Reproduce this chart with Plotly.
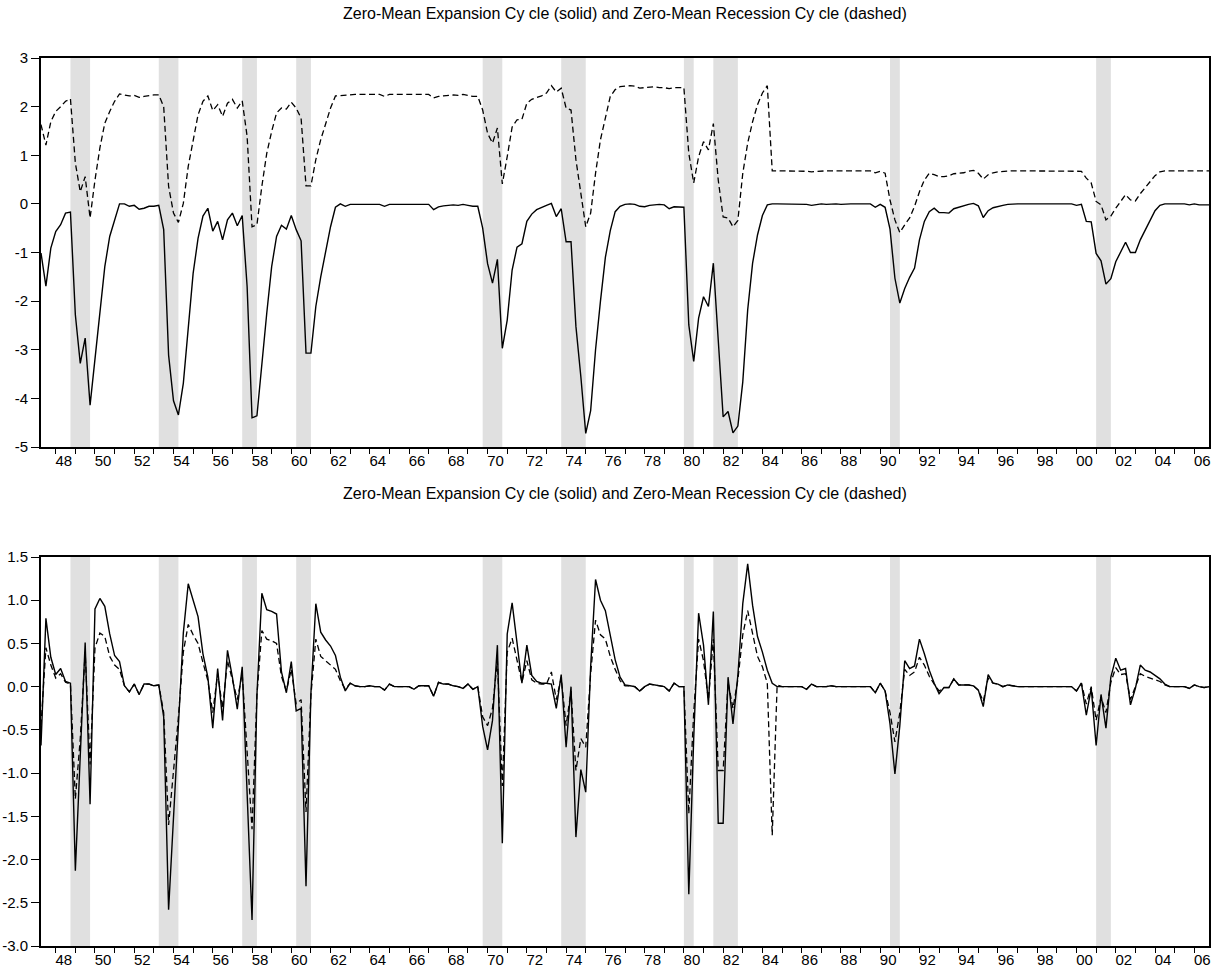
import plotly.graph_objects as go
import pandas as pd

# ---------------- data (quarterly, 1947Q2 - 2006Q4) ----------------
start_period = "1947Q2"

top_expansion = [
    -1.01, -1.69, -0.91,                      # 1947 Q2-Q4
    -0.57, -0.43, -0.19, -0.17,               # 1948
    -2.28, -3.28, -2.76, -4.14,               # 1949
    -3.17, -2.26, -1.29, -0.67,               # 1950
    -0.33, 0.00, 0.00, -0.05,                 # 1951
    -0.03, -0.11, -0.09, -0.05,               # 1952
    -0.05, -0.03, -0.53, -3.11,               # 1953
    -4.05, -4.34, -3.69, -2.52,               # 1954
    -1.43, -0.71, -0.25, -0.09,               # 1955
    -0.56, -0.36, -0.74, -0.33,               # 1956
    -0.19, -0.45, -0.24, -1.70,               # 1957
    -4.40, -4.36, -3.28, -2.25,               # 1958
    -1.29, -0.67, -0.44, -0.52,               # 1959
    -0.24, -0.53, -0.76, -3.07,               # 1960
    -3.07, -2.11, -1.50, -0.95,               # 1961
    -0.47, -0.07, 0.00, -0.05,                # 1962
    -0.01, -0.01, -0.01, -0.01,               # 1963
    0.00, 0.00, -0.01, -0.05,                 # 1964
    -0.01, -0.01, -0.01, -0.01,               # 1965
    -0.02, -0.02, -0.02, -0.02,               # 1966
    -0.01, -0.12, -0.06, -0.04,               # 1967
    -0.03, -0.02, -0.03, -0.01,               # 1968
    -0.03, -0.05, -0.05, -0.50,               # 1969
    -1.23, -1.63, -1.14, -2.97,               # 1970
    -2.39, -1.36, -0.89, -0.82,               # 1971
    -0.36, -0.21, -0.12, -0.07,               # 1972
    -0.03, 0.01, -0.26, -0.10,                # 1973
    -0.78, -0.78, -2.52, -3.55,               # 1974
    -4.72, -4.25, -3.00, -2.00,               # 1975
    -1.10, -0.55, -0.16, -0.05,               # 1976
    -0.01, 0.00, -0.01, -0.05,                # 1977
    -0.06, -0.03, -0.02, -0.01,               # 1978
    -0.02, -0.10, -0.06, -0.06,               # 1979
    -0.07, -2.49, -3.24, -2.35,               # 1980
    -1.91, -2.11, -1.22, -2.80,               # 1981
    -4.38, -4.27, -4.71, -4.57,               # 1982
    -3.66, -2.18, -1.22, -0.64,               # 1983
    -0.24, -0.02, 0.00, 0.00,                 # 1984
    0.00, 0.00, -0.01, 0.00,                  # 1985
    0.00, -0.01, -0.03, -0.01,                # 1986
    0.00, -0.01, 0.00, 0.00,                  # 1987
    -0.01, 0.00, 0.00, 0.00,                  # 1988
    0.00, 0.00, 0.00, -0.07,                  # 1989
    -0.01, -0.07, -0.52, -1.53,               # 1990
    -2.04, -1.74, -1.51, -1.32,               # 1991
    -0.74, -0.36, -0.16, -0.09,               # 1992
    -0.18, -0.18, -0.19, -0.10,               # 1993
    -0.07, -0.03, -0.01, 0.01,                # 1994
    -0.04, -0.28, -0.14, -0.08,               # 1995
    -0.05, -0.03, -0.01, 0.00,                # 1996
    0.00, 0.00, 0.00, 0.00,                   # 1997
    0.00, 0.00, 0.00, 0.00,                   # 1998
    0.00, 0.00, 0.00, 0.00,                   # 1999
    -0.03, -0.01, -0.36, -0.37,               # 2000
    -1.02, -1.17, -1.65, -1.54,               # 2001
    -1.19, -1.00, -0.79, -1.00,               # 2002
    -1.00, -0.74, -0.53, -0.34,               # 2003
    -0.14, -0.03, 0.00, 0.00,                 # 2004
    0.00, 0.00, 0.00, -0.02,                  # 2005
    0.00, -0.02, -0.02, -0.02,                # 2006
]

top_recession = [
    1.63, 1.21, 1.69,                         # 1947 Q2-Q4
    1.90, 2.00, 2.11, 2.16,                   # 1948
    0.84, 0.25, 0.56, -0.29,                  # 1949
    0.49, 1.15, 1.66, 1.90,                   # 1950
    2.11, 2.26, 2.24, 2.22,                   # 1951
    2.23, 2.19, 2.21, 2.23,                   # 1952
    2.24, 2.24, 2.00, 0.36,                   # 1953
    -0.19, -0.38, 0.01, 0.77,                 # 1954
    1.32, 1.83, 2.11, 2.22,                   # 1955
    1.92, 2.04, 1.80, 2.07,                   # 1956
    2.15, 1.97, 2.12, 1.39,                   # 1957
    -0.47, -0.43, 0.36, 1.04,                 # 1958
    1.49, 1.87, 1.97, 1.95,                   # 1959
    2.09, 1.97, 1.76, 0.37,                   # 1960
    0.37, 0.91, 1.32, 1.63,                   # 1961
    1.97, 2.22, 2.23, 2.24,                   # 1962
    2.25, 2.25, 2.25, 2.25,                   # 1963
    2.26, 2.26, 2.25, 2.21,                   # 1964
    2.25, 2.25, 2.25, 2.25,                   # 1965
    2.24, 2.24, 2.24, 2.24,                   # 1966
    2.25, 2.18, 2.21, 2.22,                   # 1967
    2.23, 2.24, 2.23, 2.25,                   # 1968
    2.23, 2.21, 2.21, 1.93,                   # 1969
    1.45, 1.25, 1.56, 0.41,                   # 1970
    0.97, 1.58, 1.73, 1.74,                   # 1971
    2.07, 2.15, 2.19, 2.22,                   # 1972
    2.28, 2.43, 2.30, 2.38,                   # 1973
    1.97, 1.93, 0.91, 0.22,                   # 1974
    -0.47, -0.19, 0.63, 1.32,                 # 1975
    1.80, 2.21, 2.35, 2.41,                   # 1976
    2.42, 2.43, 2.42, 2.38,                   # 1977
    2.39, 2.40, 2.41, 2.39,                   # 1978
    2.39, 2.37, 2.39, 2.39,                   # 1979
    2.39, 1.04, 0.43, 0.97,                   # 1980
    1.28, 1.11, 1.65, 0.49,                   # 1981
    -0.27, -0.29, -0.47, -0.34,               # 1982
    0.63, 1.25, 1.69, 2.04,                   # 1983
    2.28, 2.43, 0.68, 0.68,                   # 1984
    0.68, 0.68, 0.68, 0.68,                   # 1985
    0.68, 0.67, 0.66, 0.67,                   # 1986
    0.68, 0.68, 0.68, 0.68,                   # 1987
    0.67, 0.68, 0.68, 0.68,                   # 1988
    0.68, 0.68, 0.68, 0.64,                   # 1989
    0.67, 0.63, 0.08, -0.33,                  # 1990
    -0.59, -0.43, -0.29, -0.05,               # 1991
    0.25, 0.49, 0.63, 0.60,                   # 1992
    0.56, 0.56, 0.58, 0.62,                   # 1993
    0.63, 0.64, 0.67, 0.69,                   # 1994
    0.63, 0.51, 0.60, 0.64,                   # 1995
    0.66, 0.67, 0.68, 0.68,                   # 1996
    0.68, 0.68, 0.68, 0.68,                   # 1997
    0.68, 0.68, 0.68, 0.68,                   # 1998
    0.68, 0.68, 0.68, 0.68,                   # 1999
    0.68, 0.67, 0.53, 0.43,                   # 2000
    0.05, -0.02, -0.33, -0.25,                # 2001
    -0.09, 0.05, 0.19, 0.08,                  # 2002
    0.06, 0.21, 0.34, 0.46,                   # 2003
    0.58, 0.66, 0.68, 0.68,                   # 2004
    0.68, 0.68, 0.68, 0.67,                   # 2005
    0.68, 0.68, 0.68, 0.68,                   # 2006
]

bottom_expansion = [
    -0.68, 0.79, 0.34,                        # 1947 Q2-Q4
    0.14, 0.21, 0.06, 0.04,                   # 1948
    -2.13, -0.80, 0.51, -1.36,                # 1949
    0.90, 1.02, 0.93, 0.61,                   # 1950
    0.36, 0.29, 0.01, -0.06,                  # 1951
    0.03, -0.09, 0.03, 0.03,                  # 1952
    0.01, 0.02, -0.35, -2.58,                 # 1953
    -1.50, -0.45, 0.62, 1.19,                 # 1954
    1.00, 0.81, 0.38, 0.11,                   # 1955
    -0.48, 0.21, -0.39, 0.42,                 # 1956
    0.11, -0.26, 0.23, -1.25,                 # 1957
    -2.70, -0.10, 1.08, 0.89,                 # 1958
    0.87, 0.84, 0.17, -0.07,                  # 1959
    0.29, -0.28, -0.25, -2.31,                # 1960
    -0.08, 0.96, 0.63, 0.54,                  # 1961
    0.47, 0.36, 0.11, -0.05,                  # 1962
    0.04, 0.01, 0.00, 0.00,                   # 1963
    0.01, 0.00, 0.00, -0.04,                  # 1964
    0.03, 0.00, 0.00, 0.00,                   # 1965
    0.00, -0.03, 0.01, 0.01,                  # 1966
    0.01, -0.11, 0.05, 0.03,                  # 1967
    0.03, 0.01, 0.00, -0.02,                  # 1968
    0.03, -0.03, 0.00, -0.46,                 # 1969
    -0.73, -0.39, 0.48, -1.81,                # 1970
    0.61, 0.97, 0.48, 0.04,                   # 1971
    0.48, 0.13, 0.06, 0.04,                   # 1972
    0.04, 0.03, -0.25, 0.14,                  # 1973
    -0.70, 0.00, -1.74, -0.96,                # 1974
    -1.22, 0.23, 1.24, 1.00,                  # 1975
    0.88, 0.60, 0.31, 0.11,                   # 1976
    0.02, 0.01, 0.00, -0.05,                  # 1977
    0.00, 0.03, 0.02, 0.01,                   # 1978
    0.00, -0.05, 0.04, 0.00,                  # 1979
    0.00, -2.40, -0.60, 0.85,                 # 1980
    0.48, -0.21, 0.87, -1.58,                 # 1981
    -1.58, 0.11, -0.43, 0.13,                 # 1982
    0.96, 1.42, 0.94, 0.58,                   # 1983
    0.40, 0.19, 0.04, 0.00,                   # 1984
    0.00, 0.00, 0.00, 0.00,                   # 1985
    0.00, -0.03, 0.03, 0.00,                  # 1986
    0.00, 0.00, 0.01, 0.00,                   # 1987
    0.00, 0.00, 0.00, 0.00,                   # 1988
    0.00, 0.00, 0.00, -0.07,                  # 1989
    0.04, -0.05, -0.43, -1.01,                # 1990
    -0.45, 0.30, 0.21, 0.24,                  # 1991
    0.55, 0.38, 0.19, 0.04,                   # 1992
    -0.08, -0.01, -0.01, 0.09,                # 1993
    0.02, 0.02, 0.02, 0.01,                   # 1994
    -0.04, -0.23, 0.14, 0.04,                 # 1995
    0.03, 0.00, 0.02, 0.01,                   # 1996
    0.00, 0.00, 0.00, 0.00,                   # 1997
    0.00, 0.00, 0.00, 0.00,                   # 1998
    0.00, 0.00, 0.00, 0.00,                   # 1999
    -0.05, 0.04, -0.33, -0.02,                # 2000
    -0.68, -0.09, -0.48, 0.11,                # 2001
    0.33, 0.19, 0.21, -0.21,                  # 2002
    -0.02, 0.25, 0.19, 0.17,                  # 2003
    0.13, 0.09, 0.03, 0.00,                   # 2004
    0.00, 0.00, 0.00, -0.02,                  # 2005
    0.02, 0.00, -0.01, 0.00,                  # 2006
]

bottom_recession = [
    -0.45, 0.45, 0.25,                        # 1947 Q2-Q4
    0.10, 0.15, 0.05, 0.03,                   # 1948
    -1.30, -0.60, 0.40, -0.90,                # 1949
    0.45, 0.62, 0.58, 0.35,                   # 1950
    0.25, 0.20, 0.01, -0.06,                  # 1951
    0.03, -0.09, 0.03, 0.03,                  # 1952
    0.01, 0.02, -0.30, -1.60,                 # 1953
    -1.00, -0.35, 0.40, 0.72,                 # 1954
    0.60, 0.50, 0.28, 0.07,                   # 1955
    -0.30, 0.15, -0.25, 0.30,                 # 1956
    0.08, -0.15, 0.15, -0.70,                 # 1957
    -1.65, -0.10, 0.65, 0.55,                 # 1958
    0.53, 0.50, 0.12, -0.05,                  # 1959
    0.20, -0.20, -0.15, -1.45,                # 1960
    -0.10, 0.55, 0.35, 0.30,                  # 1961
    0.25, 0.20, 0.07, -0.03,                  # 1962
    0.04, 0.01, 0.00, 0.00,                   # 1963
    0.01, 0.00, 0.00, -0.04,                  # 1964
    0.03, 0.00, 0.00, 0.00,                   # 1965
    0.00, -0.03, 0.01, 0.01,                  # 1966
    0.01, -0.11, 0.05, 0.03,                  # 1967
    0.03, 0.01, 0.00, -0.02,                  # 1968
    0.03, -0.03, 0.00, -0.35,                 # 1969
    -0.45, -0.25, 0.30, -1.15,                # 1970
    0.40, 0.56, 0.30, 0.05,                   # 1971
    0.30, 0.08, 0.04, 0.03,                   # 1972
    0.03, 0.17, -0.15, 0.10,                  # 1973
    -0.45, -0.05, -0.97, -0.60,               # 1974
    -0.70, 0.15, 0.77, 0.60,                  # 1975
    0.55, 0.35, 0.20, 0.07,                   # 1976
    0.01, 0.01, 0.00, -0.05,                  # 1977
    0.00, 0.03, 0.02, 0.01,                   # 1978
    0.00, -0.05, 0.04, 0.00,                  # 1979
    0.00, -1.47, -0.30, 0.55,                 # 1980
    0.30, -0.15, 0.55, -0.97,                 # 1981
    -0.97, 0.05, -0.25, 0.08,                 # 1982
    0.60, 0.88, 0.60, 0.35,                   # 1983
    0.23, 0.04, -1.72, 0.02,                  # 1984
    0.00, 0.00, 0.00, 0.00,                   # 1985
    0.00, -0.03, 0.03, 0.00,                  # 1986
    0.00, 0.00, 0.01, 0.00,                   # 1987
    0.00, 0.00, 0.00, 0.00,                   # 1988
    0.00, 0.00, 0.00, -0.07,                  # 1989
    0.04, -0.05, -0.30, -0.64,                # 1990
    -0.30, 0.20, 0.13, 0.17,                  # 1991
    0.34, 0.25, 0.12, 0.03,                   # 1992
    -0.05, -0.01, -0.01, 0.09,                # 1993
    0.02, 0.02, 0.02, 0.01,                   # 1994
    -0.04, -0.17, 0.10, 0.04,                 # 1995
    0.03, 0.00, 0.02, 0.01,                   # 1996
    0.00, 0.00, 0.00, 0.00,                   # 1997
    0.00, 0.00, 0.00, 0.00,                   # 1998
    0.00, 0.00, 0.00, 0.00,                   # 1999
    -0.05, 0.04, -0.20, 0.00,                 # 2000
    -0.39, -0.12, -0.30, 0.05,                # 2001
    0.22, 0.14, 0.15, -0.15,                  # 2002
    0.00, 0.15, 0.12, 0.10,                   # 2003
    0.08, 0.06, 0.02, 0.00,                   # 2004
    0.00, 0.00, 0.00, -0.02,                  # 2005
    0.02, 0.00, -0.01, 0.00,                  # 2006
]

# NBER recessions (peak quarter -> trough quarter)
recession_start = ["1948Q4", "1953Q2", "1957Q3", "1960Q2", "1969Q4",
                   "1973Q4", "1980Q1", "1981Q3", "1990Q3", "2001Q1"]
recession_end = ["1949Q4", "1954Q2", "1958Q2", "1961Q1", "1970Q4",
                 "1975Q1", "1980Q3", "1982Q4", "1991Q1", "2001Q4"]

top_ticks = [3, 2, 1, 0, -1, -2, -3, -4, -5]
bottom_ticks = [1.5, 1.0, 0.5, 0.0, -0.5, -1.0, -1.5, -2.0, -2.5, -3.0]
title_text = "Zero-Mean Expansion Cy cle (solid) and Zero-Mean Recession Cy cle (dashed)"

# ---------------- build ----------------
n = len(top_expansion)
assert n == len(top_recession) == len(bottom_expansion) == len(bottom_recession)


def qnum(p):
    return p.year + (p.quarter - 1) / 4.0


periods = pd.period_range(start_period, periods=n, freq="Q")
xs = [qnum(p) for p in periods]
x0, x1 = xs[0], xs[-1]

W, H = 1213, 972
PL, PR = 41, 1209
TOP_T, TOP_B = 58, 447
BOT_T, BOT_B = 557, 946

fig = go.Figure()
solid = dict(color="black", width=1.4)
dashed = dict(color="black", width=1.3, dash="6px,3.5px")

fig.add_trace(go.Scatter(x=xs, y=top_recession, mode="lines", line=dashed,
                         xaxis="x", yaxis="y", showlegend=False, hoverinfo="skip"))
fig.add_trace(go.Scatter(x=xs, y=top_expansion, mode="lines", line=solid,
                         xaxis="x", yaxis="y", showlegend=False, hoverinfo="skip"))
fig.add_trace(go.Scatter(x=xs, y=bottom_recession, mode="lines", line=dashed,
                         xaxis="x2", yaxis="y2", showlegend=False, hoverinfo="skip"))
fig.add_trace(go.Scatter(x=xs, y=bottom_expansion, mode="lines", line=solid,
                         xaxis="x2", yaxis="y2", showlegend=False, hoverinfo="skip"))

shapes = []
for s, e in zip(recession_start, recession_end):
    xa = qnum(pd.Period(s, freq="Q"))
    xb = qnum(pd.Period(e, freq="Q"))
    for xr, yr in (("x", "y domain"), ("x2", "y2 domain")):
        shapes.append(dict(type="rect", xref=xr, yref=yr, x0=xa, x1=xb, y0=0, y1=1,
                           fillcolor="#e0e0e0", line=dict(width=0), layer="below"))

years = list(range(int(x0) + 1, int(x1) + 1))
year_text = [("%02d" % (y % 100)) if y % 2 == 0 else "" for y in years]


def fmt(v, dec):
    s = ("%." + str(dec) + "f") % abs(v)
    return ("-" + s) if v < 0 else s


FONT = "Liberation Sans, Arial, sans-serif"
tickfont = dict(family=FONT, size=15, color="black")


def xaxis(anchor):
    return dict(range=[x0, x1], tickvals=years, ticktext=year_text, ticks="outside",
                ticklen=5, tickwidth=1, tickcolor="black", ticklabelshift=8,
                ticklabelstandoff=-6,
                showline=True, linecolor="black", linewidth=2, mirror=True,
                showgrid=False, zeroline=False, tickfont=tickfont, anchor=anchor,
                domain=[PL / W, PR / W], automargin=False)


def yaxis(rng, tv, dec, top, bot, anchor):
    return dict(range=rng, tickvals=tv, ticktext=[fmt(v, dec) for v in tv],
                ticks="outside", ticklen=8, tickwidth=1, tickcolor="black",
                showline=True, linecolor="black", linewidth=2, mirror=True,
                showgrid=False, zeroline=False, tickfont=tickfont, anchor=anchor,
                domain=[1 - bot / H, 1 - top / H], automargin=False)


fig.update_layout(
    width=W, height=H, margin=dict(l=0, r=0, t=0, b=0),
    paper_bgcolor="white", plot_bgcolor="white",
    xaxis=xaxis("y"), yaxis=yaxis([-5, 3], top_ticks, 0, TOP_T, TOP_B, "x"),
    xaxis2=xaxis("y2"), yaxis2=yaxis([-3, 1.5], bottom_ticks, 1, BOT_T, BOT_B, "x2"),
    shapes=shapes,
    annotations=[
        dict(text=title_text, xref="paper", yref="paper", x=(PL + PR) / 2 / W,
             y=1 - 14 / H, showarrow=False, xanchor="center", yanchor="middle",
             font=dict(family=FONT, size=16, color="black")),
        dict(text=title_text, xref="paper", yref="paper", x=(PL + PR) / 2 / W,
             y=1 - 494 / H, showarrow=False, xanchor="center", yanchor="middle",
             font=dict(family=FONT, size=16, color="black")),
    ],
)

fig.write_html("out.html")
